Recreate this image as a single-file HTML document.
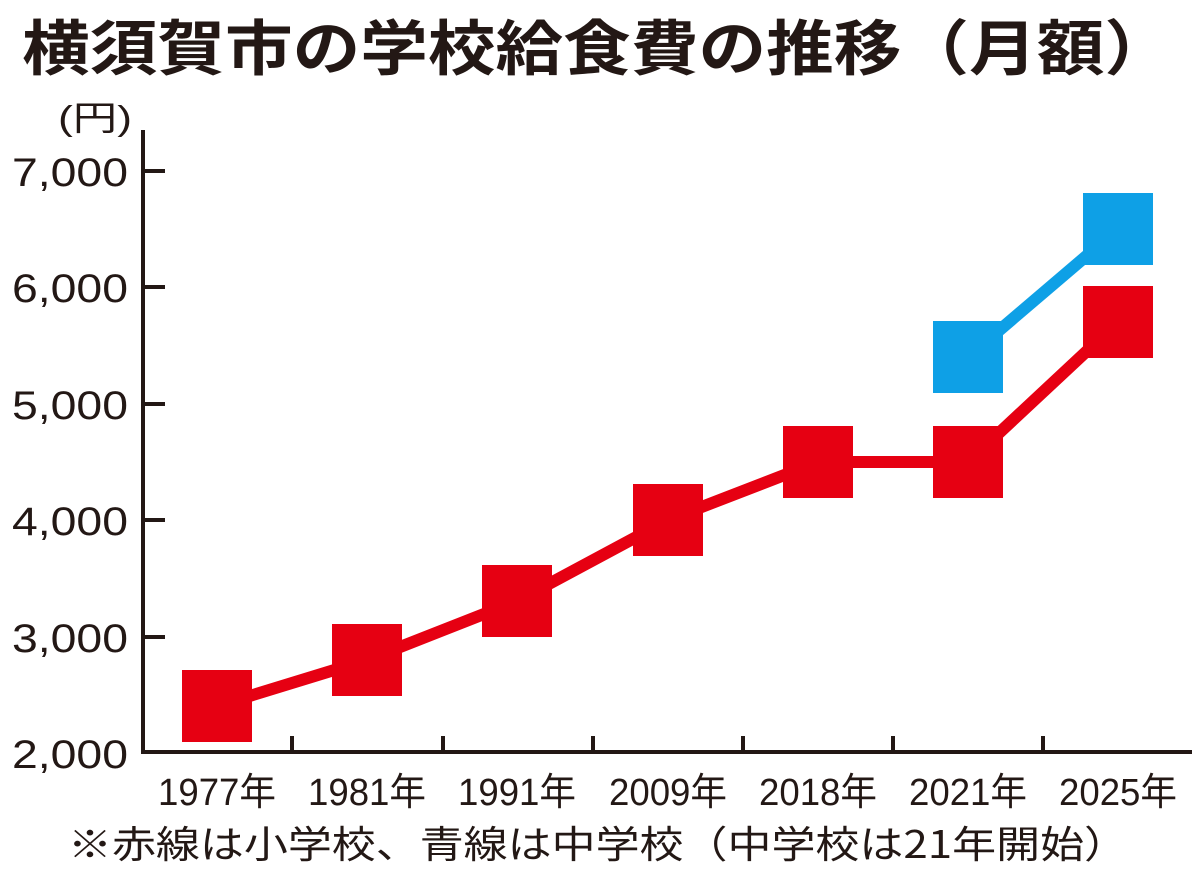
<!DOCTYPE html>
<html><head><meta charset="utf-8"><style>
html,body{margin:0;padding:0;background:#fff;}
svg{display:block;}
</style></head><body>
<svg width="1200" height="876" viewBox="0 0 1200 876" xmlns="http://www.w3.org/2000/svg" font-family="'Liberation Sans','Noto Sans CJK JP',sans-serif">
<text x="22" y="70" font-size="60" font-weight="bold" fill="#231815" textLength="1150" lengthAdjust="spacingAndGlyphs" font-family="'Noto Sans CJK JP',sans-serif">横須賀市の学校給食費の推移（月額）</text>
<text x="58" y="130" font-size="34" fill="#231815" textLength="74" lengthAdjust="spacingAndGlyphs">(円)</text>
<g stroke="#231815" stroke-width="4" fill="none">
<line x1="143" y1="130" x2="143" y2="754"/>
<line x1="141" y1="752" x2="1192" y2="752"/>
<line x1="143" y1="171" x2="165" y2="171"/>
<line x1="143" y1="287" x2="165" y2="287"/>
<line x1="143" y1="404" x2="165" y2="404"/>
<line x1="143" y1="520" x2="165" y2="520"/>
<line x1="143" y1="637" x2="165" y2="637"/>
<line x1="292" y1="752" x2="292" y2="736"/>
<line x1="443" y1="752" x2="443" y2="736"/>
<line x1="593" y1="752" x2="593" y2="736"/>
<line x1="743" y1="752" x2="743" y2="736"/>
<line x1="893" y1="752" x2="893" y2="736"/>
<line x1="1043" y1="752" x2="1043" y2="736"/>
</g>
<g font-size="40" fill="#231815" text-anchor="end">
<text x="128" y="186" textLength="116" lengthAdjust="spacingAndGlyphs">7,000</text>
<text x="128" y="302" textLength="116" lengthAdjust="spacingAndGlyphs">6,000</text>
<text x="128" y="419" textLength="116" lengthAdjust="spacingAndGlyphs">5,000</text>
<text x="128" y="535" textLength="116" lengthAdjust="spacingAndGlyphs">4,000</text>
<text x="128" y="652" textLength="116" lengthAdjust="spacingAndGlyphs">3,000</text>
<text x="128" y="768" textLength="116" lengthAdjust="spacingAndGlyphs">2,000</text>
</g>
<g font-size="38" fill="#231815" text-anchor="middle">
<text x="217" y="805" textLength="118" lengthAdjust="spacingAndGlyphs">1977年</text>
<text x="367" y="805" textLength="118" lengthAdjust="spacingAndGlyphs">1981年</text>
<text x="517" y="805" textLength="118" lengthAdjust="spacingAndGlyphs">1991年</text>
<text x="668" y="805" textLength="118" lengthAdjust="spacingAndGlyphs">2009年</text>
<text x="818" y="805" textLength="118" lengthAdjust="spacingAndGlyphs">2018年</text>
<text x="968" y="805" textLength="118" lengthAdjust="spacingAndGlyphs">2021年</text>
<text x="1118" y="805" textLength="118" lengthAdjust="spacingAndGlyphs">2025年</text>
</g>
<text x="68" y="858" font-size="38" fill="#231815" textLength="1060" lengthAdjust="spacingAndGlyphs" font-family="'Noto Sans CJK JP',sans-serif">※赤線は小学校、青線は中学校（中学校は21年開始）</text>
<polyline points="968,357 1118,229" stroke="#0ea0e6" stroke-width="12" fill="none"/>
<polyline points="217,706 367,660 517,601 668,520 818,462 968,462 1118,322" stroke="#e60012" stroke-width="12" fill="none"/>
<g fill="#0ea0e6">
<rect x="933" y="321" width="70" height="72"/>
<rect x="1083" y="193" width="70" height="72"/>
</g>
<g fill="#e60012">
<rect x="182" y="670" width="70" height="72"/>
<rect x="332" y="624" width="70" height="72"/>
<rect x="482" y="565" width="70" height="72"/>
<rect x="633" y="484" width="70" height="72"/>
<rect x="783" y="426" width="70" height="72"/>
<rect x="933" y="426" width="70" height="72"/>
<rect x="1083" y="286" width="70" height="72"/>
</g>
</svg>
</body></html>
